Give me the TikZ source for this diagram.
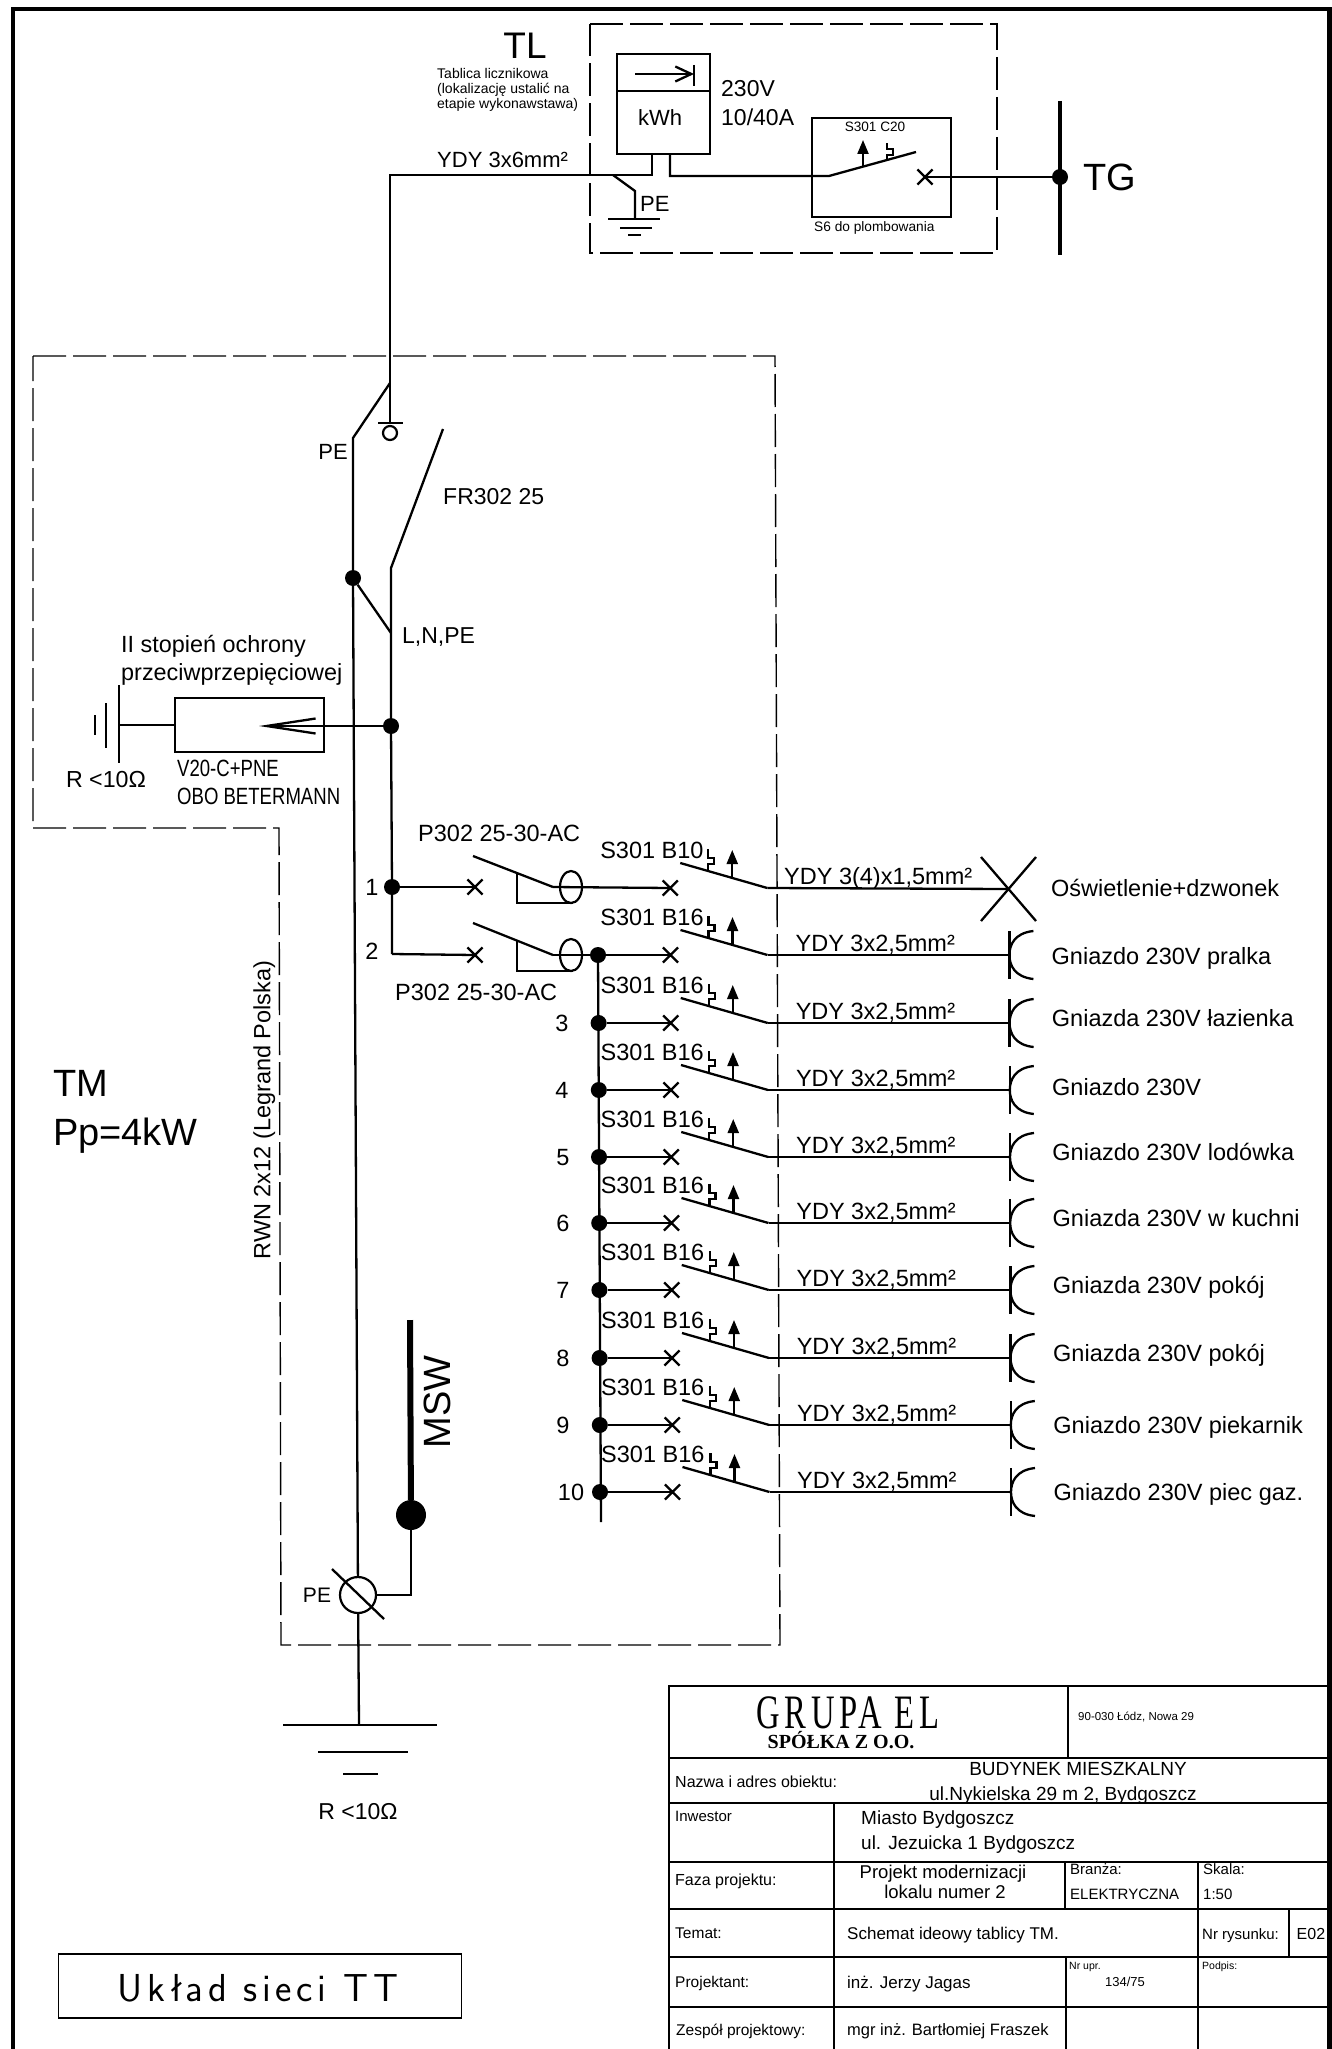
\documentclass[tikz,border=0pt]{standalone}
\usepackage{fontspec}
\usepackage{graphicx}
\setmainfont{Liberation Sans}
\newfontfamily\cadfont[LetterSpace=12]{Latin Modern Sans}
\usepackage{tikz}
\usetikzlibrary{shapes,arrows,arrows.meta,positioning,calc}
\newcommand{\fsz}[1]{\fontsize{#1}{#1}\selectfont}
\newcommand{\nar}[2]{\scalebox{#1}[1]{#2}}
\tikzset{
    txt/.style={font=\fsz{#1},inner sep=0pt,anchor=west,text height=0.716*#1 pt,text depth=0pt},
    wire/.style={line width=2.3pt},
    fat wire/.style={line width=3.5pt},
    earth bar/.style={line width=2.6pt},
    dashbox/.style={line width=1.4pt,dash pattern=on 33pt off 7pt},
    framing/.style={line width=4.5pt},
    tableline/.style={line width=1.4pt},
    dot/.style={circle,fill=black,inner sep=0pt,minimum size=16pt},
    xmark/.style={cross out,draw,line width=2.2pt,inner sep=0pt,minimum size=13pt},
    pilot/.style={line width=2.2pt,-{Triangle[length=14pt,width=11pt]}},
    box/.style={draw,line width=2.2pt,inner sep=0pt}
}
\begin{document}
\begin{tikzpicture}[x=1pt,y=-1pt]
    \useasboundingbox (0,0) rectangle (1332,2049);
    % sheet frame
    \draw[framing] (13,2049) -- (13,9) -- (1329.5,9) -- (1329.5,2049);
    % dashed outlines of both boards
    \draw[dashbox] (590,24) -- (997,24) -- (997,253) -- (590,253) -- cycle;
    \draw[dashbox] (33,356) -- (775,356) -- (780,1645) -- (281,1645) -- (279,828) -- (33,828) -- cycle;

    % meter board
    \node[txt=37,anchor=center] (tl) at (525,45) {TL};
    \node[txt=14] (tlnotea) at (437,73) {Tablica licznikowa};
    \node[txt=14] (tlnoteb) at (437,88) {(lokalizację ustalić na};
    \node[txt=14] (tlnotec) at (437,103) {etapie wykonawstawa)};
    \node[box,minimum width=93pt,minimum height=37pt] (metertop) at (663.5,72.5) {};
    \node[box,minimum width=93pt,minimum height=63pt] (meterbot) at (663.5,122.5) {};
    \node[txt=22,anchor=center] (kwh) at (660,118) {kWh};
    \coordinate (arrowa) at (635,74);
    \coordinate (arrowb) at (694,74);
    \draw[wire,-{Straight Barb[length=16pt,width=15pt]}] (arrowa) -- (arrowb);
    \draw[wire] (694,65) -- (694,86);
    \node[txt=23] (volt) at (721,88) {230V};
    \node[txt=23] (amp) at (721,117) {10/40A};
    \node[txt=22] (ydymain) at (437,160) {YDY 3x6mm²};
    \coordinate (metera) at (652,154);
    \coordinate (meterb) at (670,154);
    \coordinate (feedtop) at (390,175);
    \coordinate (feedbot) at (390,423);
    \coordinate (feedin) at (652,175);
    \coordinate (peknee) at (635,191);
    \coordinate (petap) at (613,175);
    \coordinate (gndtl) at (635,219);
    \draw[wire] (feedbot) -- (feedtop) -- (feedin) -- (metera);
    \draw[wire] (petap) -- (peknee) -- (gndtl);
    \draw[wire] (608,219) -- (660,219);
    \draw[wire] (620,228) -- (652,228);
    \draw[wire] (628,235) -- (641,235);
    \node[txt=22] (petl) at (640,204) {PE};
    \node[box,minimum width=139pt,minimum height=99pt] (s6box) at (881.5,167.5) {};
    \node[txt=13.6,anchor=center] (s301c) at (875,127) {S301 C20};
    \node[txt=13.7] (s6txt) at (814,227) {S6 do plombowania};
    \coordinate (swpiv) at (829,176);
    \coordinate (swtip) at (916,152);
    \draw[wire] (meterb) -- (670,176) -- (swpiv) -- (swtip);
    \draw[pilot] (863,166) -- (863,140);
    \draw[wire] (887,160) -- (887,155) -- (893,155) -- (893,149) -- (887,149) -- (887,143);
    \node[xmark] (swx) at (925,177) {};
    \node[dot] (tgdot) at (1060,177) {};
    \draw[wire] (swx.center) -- (tgdot);
    \draw[fat wire] (1060,101) -- (1060,255);
    \node[txt=38] (tg) at (1083,177) {TG};

    % main switch and PE split
    \node[circle,draw,line width=2.2pt,inner sep=0pt,minimum size=14pt] (terminal) at (390,433) {};
    \draw[wire] (378,423) -- (403,423);
    \coordinate (pesplit) at (390,383);
    \coordinate (peknee2) at (353,438);
    \node[dot] (pedot) at (353,578) {};
    \node[txt=22,anchor=center] (petop) at (333,452) {PE};
    \draw[wire] (pesplit) -- (peknee2) -- (pedot);
    \coordinate (fropen) at (443,429);
    \coordinate (frpiv) at (391,568);
    \coordinate (frjoin) at (391,633);
    \node[dot] (surgedot) at (391,726) {};
    \node[dot] (nodea) at (392,887) {};
    \coordinate (nodeb) at (392,954);
    \draw[wire] (fropen) -- (frpiv) -- (surgedot) -- (nodea) -- (nodeb);
    \draw[wire] (pedot) -- (frjoin);
    \node[txt=23] (frtxt) at (443,496) {FR302 25};
    \node[txt=23] (lnpe) at (402,635) {L,N,PE};

    % surge protection
    \node[txt=23.4] (surgea) at (121,644) {II stopień ochrony};
    \node[txt=23.4] (surgeb) at (121,672) {przeciwprzepięciowej};
    \node[box,minimum width=149pt,minimum height=54pt] (surgebox) at (249.5,725) {};
    \coordinate (surgetip) at (259,726);
    \coordinate (surgegnd) at (119,725);
    \draw[wire,-{Straight Barb[length=49pt,width=15pt]}] (surgedot) -- (surgetip);
    \draw[wire] (surgegnd) -- (surgebox.west);
    \draw[earth bar] (119,685) -- (119,763);
    \draw[earth bar] (106,703) -- (106,748);
    \draw[earth bar] (95,715) -- (95,735);
    \node[txt=23.2,anchor=center] (rsurge) at (106,779) {R <10Ω};
    \node[txt=23.5] (vtwenty) at (177,768) {\nar{.79}{V20-C+PNE}};
    \node[txt=23.5] (obo) at (177,796) {\nar{.79}{OBO BETERMANN}};

    % residual current devices
    \node[txt=23.5,anchor=center] (numa) at (372,887) {1};
    \node[txt=23.5,anchor=center] (numb) at (372,951) {2};
    \node[txt=23.5] (rcdtxta) at (418,833) {P302 25-30-AC};
    \node[txt=23.5] (rcdtxtb) at (395,992) {P302 25-30-AC};
    \node[xmark] (inxa) at (475,887) {};
    \node[xmark] (inxb) at (475,955) {};
    \draw[wire] (nodea) -- (inxa.center);
    \draw[wire] (nodeb) -- (inxb.center);
    \foreach \n/\y/\ty in {a/887/856,b/955/923}
    {
        \coordinate (rcdtip\n) at (473,\ty);
        \coordinate (rcdpiv\n) at (553,\y);
        \node[ellipse,draw,line width=2.2pt,inner sep=0pt,minimum width=22pt,minimum height=32pt] (rcd\n) at (571,\y) {};
        \draw[wire] (rcdtip\n) -- (rcdpiv\n);
        \draw[wire] (517,\y-14) -- (517,\y+16) -- (573,\y+16);
    }

    % breakers, one per row
    \foreach \n/\y/\rate in {1/888/B10,2/955/B16,3/1023/B16,4/1090/B16,5/1157/B16,6/1223/B16,7/1290/B16,8/1358/B16,9/1425/B16,10/1492/B16}
    {
        \node[xmark] (xm\n) at (670+0.25*\n,\y) {};
        \coordinate (piv\n) at (767+0.25*\n,\y);
        \coordinate (bla\n) at (680+0.25*\n,\y-25);
        \draw[wire] (bla\n) -- (piv\n);
        \draw[pilot] ($(piv\n)+(-35,-10)$) -- ++(0,-28);
        \draw[wire] ($(piv\n)+(-59,-17)$) -- ++(0,-7) -- ++(6,0) -- ++(0,-6) -- ++(-6,0) -- ++(0,-9);
        \node[txt=23.5] (mcb\n) at (600+0.1*\n,\y-38) {S301 \rate};
    }
    \draw[wire] (rcdpiva) -- (xm1.center);
    \node[dot] (bus2) at (598,955) {};
    \draw[wire] (rcdpivb) -- (bus2) -- (xm2.center);
    \coordinate (busend) at (601,1522);
    \draw[wire] (bus2) -- (busend);
    \foreach \n/\y/\lx in {3/1023/562,4/1090/562,5/1157/563,6/1223/563,7/1290/563,8/1358/563,9/1425/563,10/1492/571}
    {
        \node[dot] (bus\n) at (598+0.2*\n,\y) {};
        \draw[wire] (bus\n) -- (xm\n.center);
        \node[txt=23.5,anchor=center] (num\n) at (\lx,\y) {\n};
    }

    % lighting circuit
    \node[txt=23.5] (cable1) at (784,876) {YDY 3(4)x1,5mm²};
    \coordinate (lamp) at (1009,889);
    \draw[wire] (piv1) -- (lamp);
    \draw[wire] (981,857) -- (1036,921);
    \draw[wire] (1036,857) -- (981,921);
    \node[txt=23.5] (load1) at (1051,888) {Oświetlenie+dzwonek};

    % socket circuits
    \foreach \n/\y/\ly/\load in {2/955/956/Gniazdo 230V pralka,3/1023/1018/Gniazda 230V łazienka,4/1090/1087/Gniazdo 230V,5/1157/1152/Gniazdo 230V lodówka,6/1223/1218/Gniazda 230V w kuchni,7/1290/1285/Gniazda 230V pokój,8/1358/1353/Gniazda 230V pokój,9/1425/1425/Gniazdo 230V piekarnik,10/1492/1492/Gniazdo 230V piec gaz.}
    {
        \coordinate (soc\n) at (1009+0.2*\n,\y);
        \draw[wire] (piv\n) -- (soc\n);
        \draw[wire] ($(soc\n)+(0,-24)$) -- ($(soc\n)+(0,24)$);
        \draw[wire] ($(soc\n)+(24,-24)$) .. controls +(-19,2) and +(0,-10) .. (soc\n) .. controls +(0,10) and +(-19,-2) .. ($(soc\n)+(24,24)$);
        \node[txt=23.5] (cable\n) at (795+0.2*\n,\y-12) {YDY 3x2,5mm²};
        \node[txt=23.5] (load\n) at (1051+0.25*\n,\ly) {\load};
    }

    % earthing
    \node[txt=38] (tm) at (53,1083) {TM};
    \node[txt=38] (pp) at (53,1132) {Pp=4kW};
    \node[txt=23.5,anchor=center,rotate=90] (rwn) at (262,1110) {RWN 2x12 (Legrand Polska)};
    \node[circle,draw,line width=2.2pt,inner sep=0pt,minimum size=36pt] (pering) at (358,1595) {};
    \node[txt=21,anchor=center] (peringtxt) at (317,1595) {PE};
    \draw[wire] (pedot) -- (pering);
    \draw[wire] (332,1569) -- (384,1619);
    \node[circle,fill=black,inner sep=0pt,minimum size=30pt] (mswdot) at (411,1515) {};
    \coordinate (mswtop) at (410,1320);
    \coordinate (mswknee) at (411,1595);
    \draw[line width=6pt] (mswtop) -- (mswdot);
    \draw[wire] (mswdot) -- (mswknee) -- (pering);
    \node[txt=38,anchor=center,rotate=90] (msw) at (437,1402) {MSW};
    \coordinate (gndmain) at (359,1725);
    \draw[wire] (pering) -- (gndmain);
    \draw[earth bar] (283,1725) -- (437,1725);
    \draw[earth bar] (318,1752) -- (408,1752);
    \draw[earth bar] (343,1774) -- (378,1774);
    \node[txt=23,anchor=center] (rmain) at (358,1811) {R <10Ω};

    % network type box
    \node[draw,line width=1.6pt,inner sep=0pt,minimum width=403pt,minimum height=64pt] (tt) at (260,1986) {};
    \node[font=\fsz{39}\cadfont,inner sep=0pt] (tttxt) at (258,1988) {Układ sieci TT};

    % title block grid
    \draw[tableline] (669,2049) -- (669,1686) -- (1329,1686);
    \foreach \y in {1758,1803,1862,1909,1957,2007}
    {
        \draw[tableline] (669,\y) -- (1329,\y);
    }
    \foreach \x/\ya/\yb in {1068/1686/1758,834/1803/2049,1065/1862/1909,1198/1862/2049,1066/1957/2049,1289/1909/1957}
    {
        \draw[tableline] (\x,\ya) -- (\x,\yb);
    }
    % title block texts
    \node[txt=48,anchor=center] (grupa) at (848,1711) {\fontspec{Liberation Serif}[LetterSpace=13.5]\nar{.68}{GRUPA EL}};
    \node[txt=20,anchor=center] (spolka) at (841,1741.5) {\fontspec{Liberation Serif}\bfseries SPÓŁKA Z O.O.};
    \node[txt=11.5] (addr) at (1078,1716) {90-030 Łódz, Nowa 29};
    \node[txt=16] (nazwa) at (675,1782) {Nazwa i adres obiektu:};
    \node[txt=19,anchor=center] (budynek) at (1078,1769) {BUDYNEK MIESZKALNY};
    \node[txt=19,anchor=center] (nykielska) at (1063,1794) {ul.Nykielska 29 m 2, Bydgoszcz};
    \node[txt=15] (inwestor) at (675,1816) {Inwestor};
    \node[txt=19] (miasto) at (861,1818) {Miasto Bydgoszcz};
    \node[txt=19] (jezuicka) at (861,1843) {ul. Jezuicka 1 Bydgoszcz};
    \node[txt=16] (faza) at (675,1880) {Faza projektu:};
    \node[txt=18.5,anchor=center] (projekt) at (943,1872) {Projekt modernizacji};
    \node[txt=18.5,anchor=center] (lokal) at (945,1892) {lokalu numer 2};
    \node[txt=15] (branza) at (1070,1869) {Branża:};
    \node[txt=15] (elektr) at (1070,1894) {ELEKTRYCZNA};
    \node[txt=15] (skala) at (1203,1869) {Skala:};
    \node[txt=15] (skalav) at (1203,1894) {1:50};
    \node[txt=15.5] (temat) at (675,1933) {Temat:};
    \node[txt=17] (schemat) at (847,1933) {Schemat ideowy tablicy TM.};
    \node[txt=15] (nrrys) at (1202,1934) {Nr rysunku:};
    \node[txt=16] (e02) at (1296.5,1934) {E02};
    \node[txt=15.5] (projektant) at (675,1982) {Projektant:};
    \node[txt=17] (jagas) at (847,1982) {inż. Jerzy Jagas};
    \node[txt=10.5] (nrupr) at (1069,1966) {Nr upr.};
    \node[txt=13,anchor=center] (upr) at (1125,1982) {134/75};
    \node[txt=10.5] (podpis) at (1202,1966) {Podpis:};
    \node[txt=15.5] (zespol) at (676,2030) {Zespół projektowy:};
    \node[txt=16.5] (fraszek) at (847,2030) {mgr inż. Bartłomiej Fraszek};
\end{tikzpicture}
\end{document}
